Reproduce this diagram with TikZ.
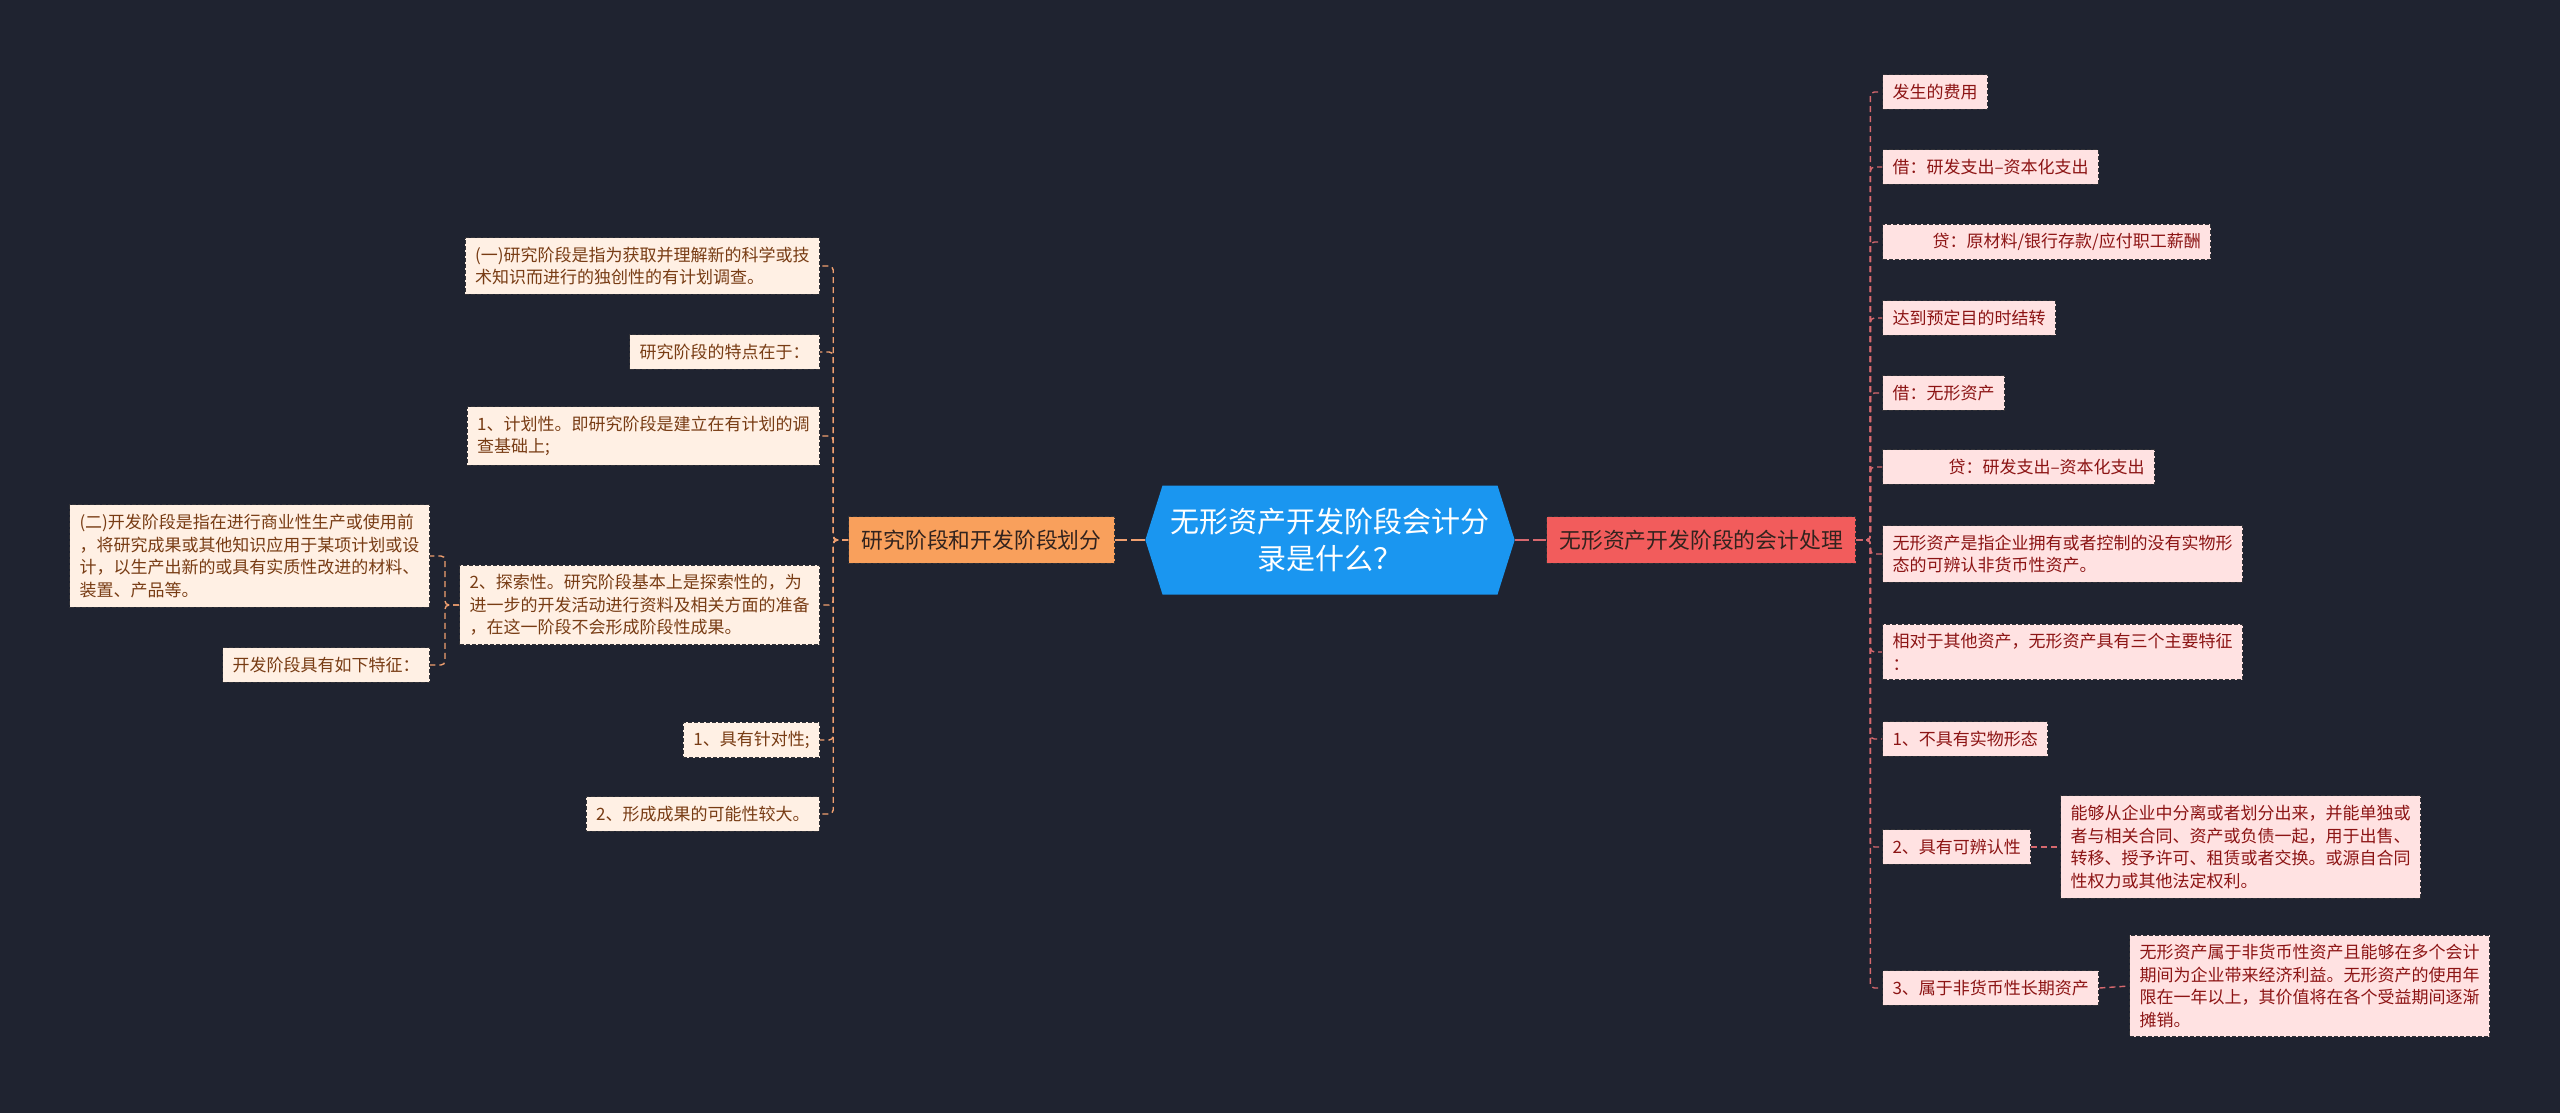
\documentclass[tikz,border=0pt]{standalone}
\usepackage{fontspec}
\setmainfont{Noto Sans CJK SC}
\usetikzlibrary{shapes.symbols}
\definecolor{bgc}{RGB}{31,35,48}
\definecolor{rootblue}{RGB}{26,150,240}
\definecolor{lAfill}{RGB}{249,160,92}
\definecolor{rAfill}{RGB}{242,92,92}
\definecolor{leafLfill}{RGB}{255,240,228}
\definecolor{leafRfill}{RGB}{255,226,226}
\definecolor{leafLtext}{RGB}{120,60,20}
\definecolor{leafRtext}{RGB}{140,20,20}
\definecolor{lineLc}{RGB}{240,160,112}
\definecolor{lineRc}{RGB}{214,104,110}
\definecolor{borderc}{RGB}{50,50,55}
\definecolor{darktext}{RGB}{50,35,30}
\begin{document}
\begin{tikzpicture}[x=0.5pt,y=-0.5pt,
  leafbase/.style={draw=borderc, line width=0.5pt, dash pattern=on 2pt off 1pt,
    font=\fontsize{8.5}{11.3}\selectfont, align=left, inner xsep=5pt, inner ysep=4.6pt},
  leafL/.style={leafbase, fill=leafLfill, text=leafLtext, anchor=east},
  leafR/.style={leafbase, fill=leafRfill, text=leafRtext, anchor=west},
  levelone/.style={draw=borderc, line width=0.5pt, dash pattern=on 2pt off 1pt,
    font=\fontsize{10.9}{13}\selectfont, text=darktext, inner xsep=6.5pt, inner ysep=6.5pt},
  rootnode/.style={signal, signal to=west and east, signal pointer angle=145,
    fill=rootblue, text=white, align=center, font=\fontsize{14.5}{18.8}\selectfont,
    minimum height=54.5pt, inner xsep=4pt},
  lineL/.style={draw=lineLc, line width=0.7pt, dash pattern=on 3pt off 2pt, rounded corners=2pt},
  lineR/.style={draw=lineRc, line width=0.7pt, dash pattern=on 3pt off 2pt, rounded corners=2pt}
]
\useasboundingbox (0,0) rectangle (2560,1113);
\fill[bgc] (0,0) rectangle (2560,1113);

% root
\node[rootnode] (root) at (1330,540) {无形资产开发阶段会计分\\录是什么？};

% level one
\node[levelone, fill=lAfill, anchor=east] (lA) at (1115,540) {研究阶段和开发阶段划分};
\node[levelone, fill=rAfill, anchor=west] (rA) at (1546,540) {无形资产开发阶段的会计处理};

\draw[lineL, dash pattern=on 7pt off 2pt] (root.west) -- (lA.east);
\draw[lineR, dash pattern=on 7pt off 2pt] (root.east) -- (rA.west);

% left leaves
\node[leafL] (l1) at (820,266) {(一)研究阶段是指为获取并理解新的科学或技\\术知识而进行的独创性的有计划调查。};
\node[leafL] (l2) at (820,352) {研究阶段的特点在于：};
\node[leafL] (l3) at (820,436) {1、计划性。即研究阶段是建立在有计划的调\\查基础上;};
\node[leafL] (l4) at (820,605) {2、探索性。研究阶段基本上是探索性的，为\\进一步的开发活动进行资料及相关方面的准备\\，在这一阶段不会形成阶段性成果。};
\node[leafL] (l5) at (820,740) {1、具有针对性;};
\node[leafL] (l6) at (820,814) {2、形成成果的可能性较大。};
\node[leafL] (l4a) at (430,556) {(二)开发阶段是指在进行商业性生产或使用前\\，将研究成果或其他知识应用于某项计划或设\\计，以生产出新的或具有实质性改进的材料、\\装置、产品等。};
\node[leafL] (l4b) at (430,665) {开发阶段具有如下特征：};

\foreach \c in {l1,l2,l3,l4,l5,l6}
  \draw[lineL] (lA.west) -- ++(-15,0) |- (\c.east);
\foreach \c in {l4a,l4b}
  \draw[lineL] (l4.west) -- ++(-14,0) |- (\c.east);

% right leaves
\node[leafR] (r1) at (1882,92) {发生的费用};
\node[leafR] (r2) at (1882,167) {借：研发支出–资本化支出};
\node[leafR] (r3) at (1882,242) {\hspace*{20pt}贷：原材料/银行存款/应付职工薪酬};
\node[leafR] (r4) at (1882,318) {达到预定目的时结转};
\node[leafR] (r5) at (1882,393) {借：无形资产};
\node[leafR] (r6) at (1882,467) {\hspace*{28pt}贷：研发支出–资本化支出};
\node[leafR] (r7) at (1882,554) {无形资产是指企业拥有或者控制的没有实物形\\态的可辨认非货币性资产。};
\node[leafR] (r8) at (1882,652) {相对于其他资产，无形资产具有三个主要特征\\：};
\node[leafR] (r9) at (1882,739) {1、不具有实物形态};
\node[leafR] (r10) at (1882,847) {2、具有可辨认性};
\node[leafR] (r11) at (1882,988) {3、属于非货币性长期资产};
\node[leafR] (r10a) at (2060,847) {能够从企业中分离或者划分出来，并能单独或\\者与相关合同、资产或负债一起，用于出售、\\转移、授予许可、租赁或者交换。或源自合同\\性权力或其他法定权利。};
\node[leafR] (r11a) at (2129,986) {无形资产属于非货币性资产且能够在多个会计\\期间为企业带来经济利益。无形资产的使用年\\限在一年以上，其价值将在各个受益期间逐渐\\摊销。};

\foreach \c in {r1,r2,r3,r4,r5,r6,r7,r8,r9,r10,r11}
  \draw[lineR] (rA.east) -- ++(14,0) |- (\c.west);
\draw[lineR] (r10.east) -- (r10a.west);
\draw[lineR] (r11.east) -- (r11a.west);
\end{tikzpicture}
\end{document}
